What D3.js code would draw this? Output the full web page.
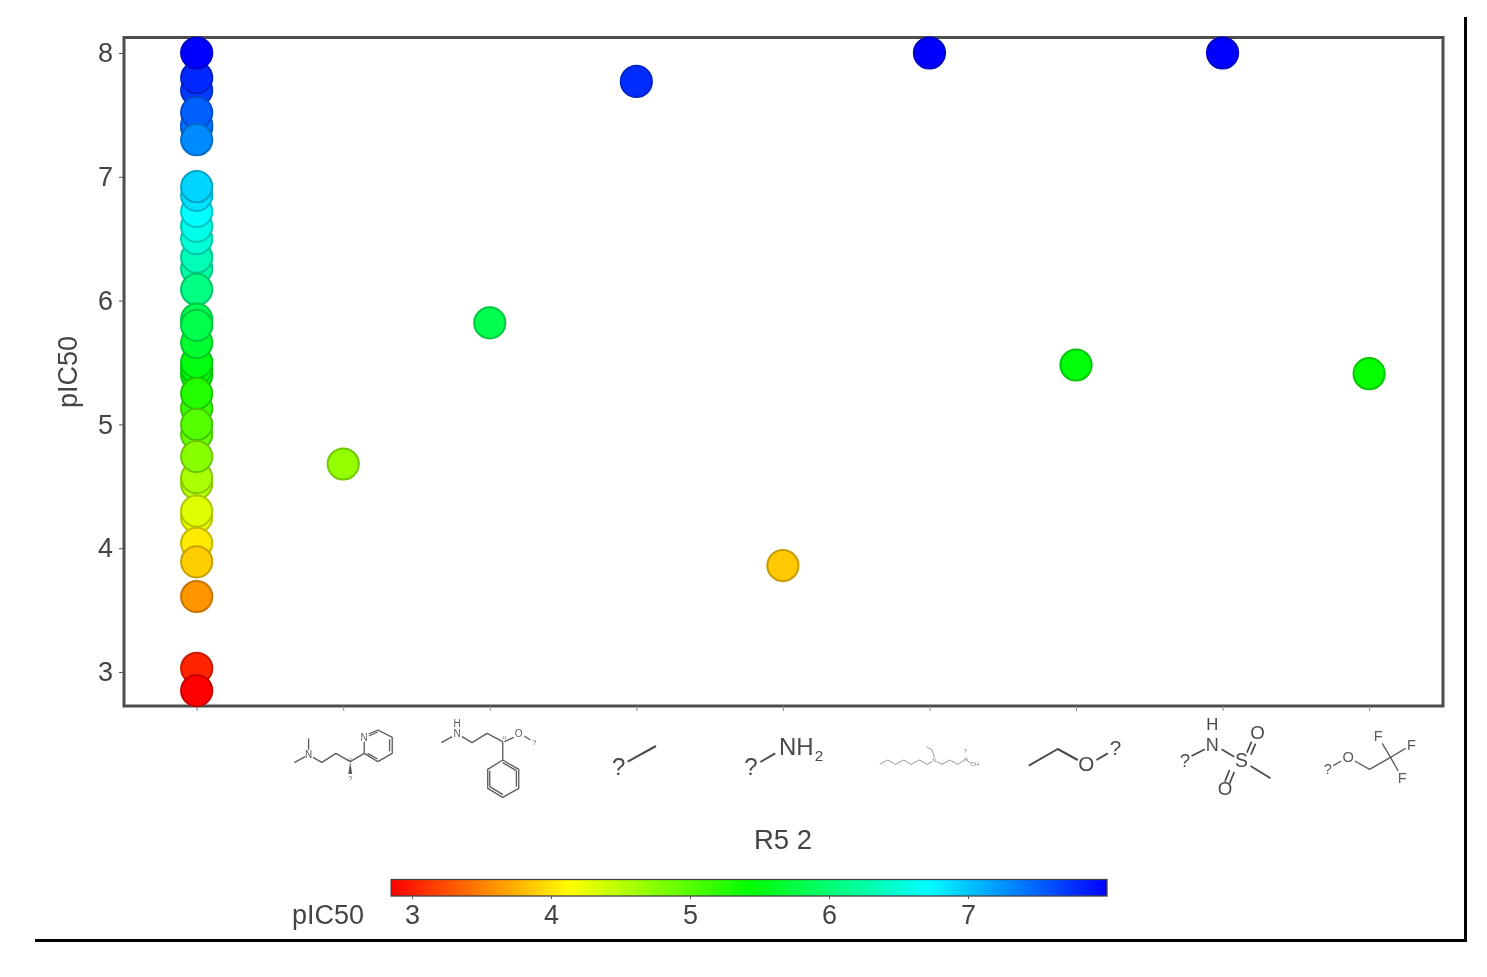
<!DOCTYPE html>
<html><head><meta charset="utf-8">
<script src="https://d3js.org/d3.v7.min.js"></script>
<style>html,body{margin:0;background:#fff}svg{display:block}text{font-family:"Liberation Sans",Arial,sans-serif}</style>
</head><body><svg id="c" width="1487" height="977"></svg>
<script>
// ---- data ----
const categories = ["none","m1","m2","m3","m4","m5","m6","m7","m8"];
const column0Values = [7.4,7.42,7.7,7.8,8.0,7.52,7.3,
  6.26,6.35,6.5,6.6,6.72,6.85,6.92,6.09,
  5.4,5.45,5.5,5.85,5.66,5.8,5.13,5.25,4.92,5.0,
  4.52,4.57,4.74,4.25,4.3,4.04,3.89,3.61,3.03,2.85];
const otherCategories = ["m1","m2","m3","m4","m5","m6","m7","m8"];
const otherValues = [4.68,5.82,7.77,3.86,8.0,5.48,8.0,5.41];
const yTicks = [3,4,5,6,7,8];
const legendTicks = [3,4,5,6,7];
const colorDomain = [2.85,4.14,5.43,6.71,8.0];
const colorRange = ["#ff0000","#ffff00","#00ff00","#00ffff","#0000ff"];

const ink = "#444444";
const page = d3.select("#c");
// outer frame lines (crisp in the reference)
page.append("path").attr("d","M35,940.5H1465.5V17").attr("fill","none").attr("stroke","#000").attr("stroke-width",3);
const svg = page.append("g").style("filter","blur(0.45px)");

const P = {l:124,r:1443,t:37.5,b:706};
const x = d3.scalePoint().domain(categories).range([P.l-0.6,P.r-0.6]).padding(0.5);
const y = d3.scaleLinear().domain([3,8]).range([672,53]);
const color = d3.scaleLinear().domain(colorDomain).range(colorRange).clamp(true);

// panel
svg.append("rect").attr("x",P.l).attr("y",P.t).attr("width",P.r-P.l).attr("height",P.b-P.t)
  .attr("fill","#fff").attr("stroke","#4d4d4d").attr("stroke-width",3);

// y axis
const yAxis = svg.append("g").attr("transform",`translate(${P.l},0)`)
  .call(d3.axisLeft(y).tickValues(yTicks).tickSize(5).tickPadding(6).tickFormat(d3.format("d")));
yAxis.select(".domain").remove();
yAxis.selectAll(".tick line").attr("stroke","#555").attr("stroke-width",1);
yAxis.selectAll("text").attr("fill",ink).attr("font-size",27);

// x axis ticks
const xAxis = svg.append("g").attr("transform",`translate(0,${P.b})`)
  .call(d3.axisBottom(x).tickSize(5).tickFormat(""));
xAxis.select(".domain").remove();
xAxis.selectAll(".tick line").attr("stroke","#888").attr("stroke-width",1);

svg.append("text").text("pIC50").attr("transform","translate(77,372) rotate(-90)")
  .attr("text-anchor","middle").attr("fill",ink).attr("font-size",27);
svg.append("text").text("R5 2").attr("x",783).attr("y",849).attr("text-anchor","middle").attr("fill",ink).attr("font-size",27.5);

// points
const pts = column0Values.map(v=>({c:"none",v})).concat(otherValues.map((v,i)=>({c:otherCategories[i],v})));
svg.append("g").selectAll("circle").data(pts).join("circle")
  .attr("cx",d=>x(d.c)).attr("cy",d=>y(d.v)).attr("r",15.6)
  .attr("fill",d=>color(d.v))
  .attr("stroke",d=>d3.color(color(d.v)).darker(0.7).formatHex())
  .attr("stroke-width",2);

// legend
const lx = d3.scaleLinear().domain([3,7]).range([412,968]);
const defs = svg.append("defs");
const grad = defs.append("linearGradient").attr("id","cb");
colorDomain.forEach((v,i)=>grad.append("stop").attr("offset",(v-2.85)/(8-2.85)).attr("stop-color",colorRange[i]));
svg.append("rect").attr("x",lx(2.85)).attr("y",879.5).attr("width",lx(8)-lx(2.85)).attr("height",16.5)
  .attr("fill","url(#cb)").attr("stroke","#444").attr("stroke-width",1.3);
const lAxis = svg.append("g").attr("transform","translate(0,896)")
  .call(d3.axisBottom(lx).tickValues(legendTicks).tickSize(3).tickPadding(6).tickFormat(d3.format("d")));
lAxis.select(".domain").remove();
lAxis.selectAll(".tick line").attr("stroke","#555");
lAxis.selectAll("text").attr("fill",ink).attr("font-size",27);
svg.append("text").text("pIC50").attr("x",364).attr("y",924).attr("text-anchor","end").attr("fill",ink).attr("font-size",27);

// ---- structure tick labels: crop-space line work and atom labels, scale 1/3 ----
const structures = {
 m1:{w:4,c:"#5c5c5c",lines:[[115,115,115,150],[72,188,105,170],[128,172,155,187,197,160,240,185,282,160,282,125],[295,102,323,90,366,112,366,160,323,185,282,160],[296,108,322,96],[358,118,358,154],[322,177,292,160]],
   labels:[["N",115,173,30],["N",282,124,30],["?",240,242,22],["&1",240,182,11]],wedge:[240,185,234,222,246,222]},
 m2:{w:4,c:"#5c5c5c",lines:[[513,128,545,110],[575,110,605,128,650,100,697,125],[697,125,697,180,745,208,745,265,697,292,652,265,652,208,697,180],[697,188,738,212],[738,212,738,260],[698,284,658,260],[658,212,658,260],[762,108,780,120],[702,125,730,112]],
   labels:[["N",560,112,30],["H",560,80,30],["O",745,112,30],["?",792,136,22],["&1",702,118,11]]},
 m3:{w:6,c:"#4a4a4a",lines:[[1072,185,1157,138]],labels:[["?",1045,226,72]]},
 m4:{w:6,c:"#4a4a4a",lines:[[90,126,135,100]],labels:[["?",62,166,72],["NH",198,105,72],["2",266,122,46]]},
 m5:{w:2.6,c:"#888",lines:[[58,193,82,180,105,193,130,180,152,193,177,180,200,193,216,184],[222,172,215,150,198,140],[228,184,245,193,268,180,292,193,315,178,332,190]],
   labels:[["N",222,186,18],["?",314,158,18],["OH",343,198,17],["&1",318,180,9]]},
 m6:{w:6,c:"#4a4a4a",lines:[[505,197,592,147,652,180],[708,180,742,160]],labels:[["O",678,213,62],["?",765,166,62]]},
 m7:{w:5,c:"#4a4a4a",lines:[[78,138,118,118],[168,118,206,140],[255,168,315,205],[244,128,258,95],[256,134,270,101],[192,180,178,215],[206,186,192,221]],
   labels:[["N",140,122,54],["H",140,60,50],["S",228,170,58],["O",276,88,56],["O",178,256,56],["?",58,172,56]]},
 m8:{w:4,c:"#5c5c5c",lines:[[248,197,272,183],[313,183,357,208,420,172,395,130],[420,172,465,145],[420,172,443,213]],
   labels:[["O",293,187,44],["?",232,222,44],["F",383,123,44],["F",483,149,44],["F",455,249,44]]}
};
// crop origin and the tick centre that crop was read against
const cropOrigin = {m1:[270,700],m2:[270,700],m3:[270,700],m4:[730,720],m5:[860,700],m6:[860,700],m7:[1165,710],m8:[1250,700]};
const cropTick = {m1:343,m2:489.4,m3:636,m4:782.6,m5:929,m6:1075.6,m7:1222,m8:1368.6};
categories.slice(1).forEach(k=>{
  const s = structures[k], b = cropOrigin[k];
  const g = svg.append("g").attr("transform",`translate(${b[0]+x(k)-cropTick[k]},${b[1]}) scale(${1/3})`);
  s.lines.forEach(l=>{
    const pairs = d3.range(0,l.length,2).map(i=>[l[i],l[i+1]]);
    g.append("path").attr("d",d3.line()(pairs)).attr("fill","none").attr("stroke",s.c).attr("stroke-width",s.w).attr("stroke-linejoin","round");
  });
  if(s.wedge) g.append("path").attr("d",d3.line()(d3.range(0,6,2).map(i=>[s.wedge[i],s.wedge[i+1]]))+"Z").attr("fill",s.c);
  s.labels.forEach(t=>{
    g.append("text").text(t[0]).attr("x",t[1]).attr("y",t[2]).attr("font-size",t[3]).attr("text-anchor","middle").attr("fill",s.c);
  });
});
</script></body></html>
